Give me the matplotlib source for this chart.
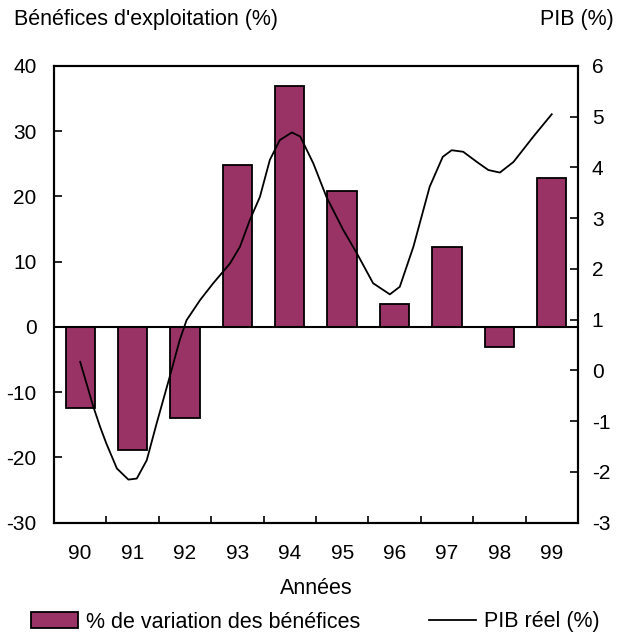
import matplotlib
matplotlib.use('Agg')
import matplotlib.pyplot as plt
from matplotlib.patches import Patch
from matplotlib.lines import Line2D

plt.rcParams['font.family'] = ['Liberation Sans', 'DejaVu Sans']
plt.rcParams['axes.unicode_minus'] = False

# Profit change by year (left axis)
years = ['90', '91', '92', '93', '94', '95', '96', '97', '98', '99']
profits = [-12.4, -18.8, -13.9, 24.8, 36.9, 20.8, 3.5, 12.3, -3.1, 22.8]

gdp_x = [0.0, 0.25, 0.38, 0.5, 0.7, 0.92, 1.08, 1.27, 1.46, 1.71, 1.9, 2.03,
         2.29, 2.54, 2.86, 3.05, 3.24, 3.43, 3.62, 3.81, 4.04, 4.2, 4.45, 4.7,
         5.02, 5.28, 5.59, 5.91, 6.1, 6.36, 6.67, 6.92, 7.09, 7.31, 7.57, 7.79,
         8.01, 8.27, 8.65, 9.0]
gdp = [0.17, -0.71, -1.11, -1.44, -1.93, -2.15, -2.13, -1.77, -1.04, -0.12,
       0.6, 0.99, 1.39, 1.72, 2.11, 2.44, 2.97, 3.42, 4.15, 4.54, 4.69, 4.61,
       4.08, 3.42, 2.77, 2.31, 1.72, 1.5, 1.65, 2.44, 3.62, 4.21, 4.34, 4.31,
       4.11, 3.95, 3.9, 4.11, 4.61, 5.05]

BAR_COLOR = '#993366'
FS = 15.5
TICK_FS = 15

fig = plt.figure(figsize=(6.24, 6.37), dpi=100)
ax = fig.add_axes([0.0865, 0.1794, 0.8397, 0.717])
ax2 = ax.twinx()

pos = list(range(len(years)))
ax.bar(pos, profits, width=0.56, color=BAR_COLOR, edgecolor='black',
       linewidth=1.3, zorder=2)
ax.axhline(0, color='black', linewidth=1.5, zorder=3)

ax2.plot(gdp_x, gdp, color='black', linewidth=1.3, zorder=4)

ax.set_xlim(-0.5, len(years) - 0.5)
ax.set_ylim(-30, 40)
ax.set_yticks(range(-30, 41, 10))
ax2.set_ylim(-3, 6)
ax2.set_yticks(range(-3, 7))

# x ticks at category boundaries, labels at centers
ax.set_xticks([p + 0.5 for p in pos[:-1]])
ax.set_xticklabels([])
ax.set_xticks(pos, minor=True)
ax.set_xticklabels(years, minor=True, fontsize=TICK_FS)
ax.tick_params(axis='x', which='minor', length=0, pad=15)
ax.tick_params(axis='x', which='major', direction='in', length=5, width=1.2)
ax.tick_params(axis='y', direction='in', length=6, width=1.2,
               labelsize=TICK_FS, pad=12.5)
ax2.tick_params(axis='y', direction='in', length=6, width=1.2,
                labelsize=TICK_FS, pad=10)

for a in (ax, ax2):
    for s in a.spines.values():
        s.set_linewidth(1.5)

ax.set_xlabel('Années', fontsize=FS, labelpad=11)

fig.text(14 / 624, 1 - 19 / 637, "Bénéfices d'exploitation (%)", fontsize=FS,
         ha='left', va='center')
fig.text(614 / 624, 1 - 19 / 637, 'PIB (%)', fontsize=FS, ha='right', va='center')

handles = [Patch(facecolor=BAR_COLOR, edgecolor='black', linewidth=1.3),
           Line2D([0], [0], color='black', linewidth=1.3)]
fig.legend(handles, ['% de variation des bénéfices', 'PIB réel (%)'],
           loc='center', bbox_to_anchor=(0.505, 1 - 622 / 637), ncol=2,
           frameon=False, fontsize=FS, handlelength=2.2, handletextpad=0.35,
           columnspacing=3.2, borderpad=0, borderaxespad=0)

fig.savefig('out.png', dpi=100)
